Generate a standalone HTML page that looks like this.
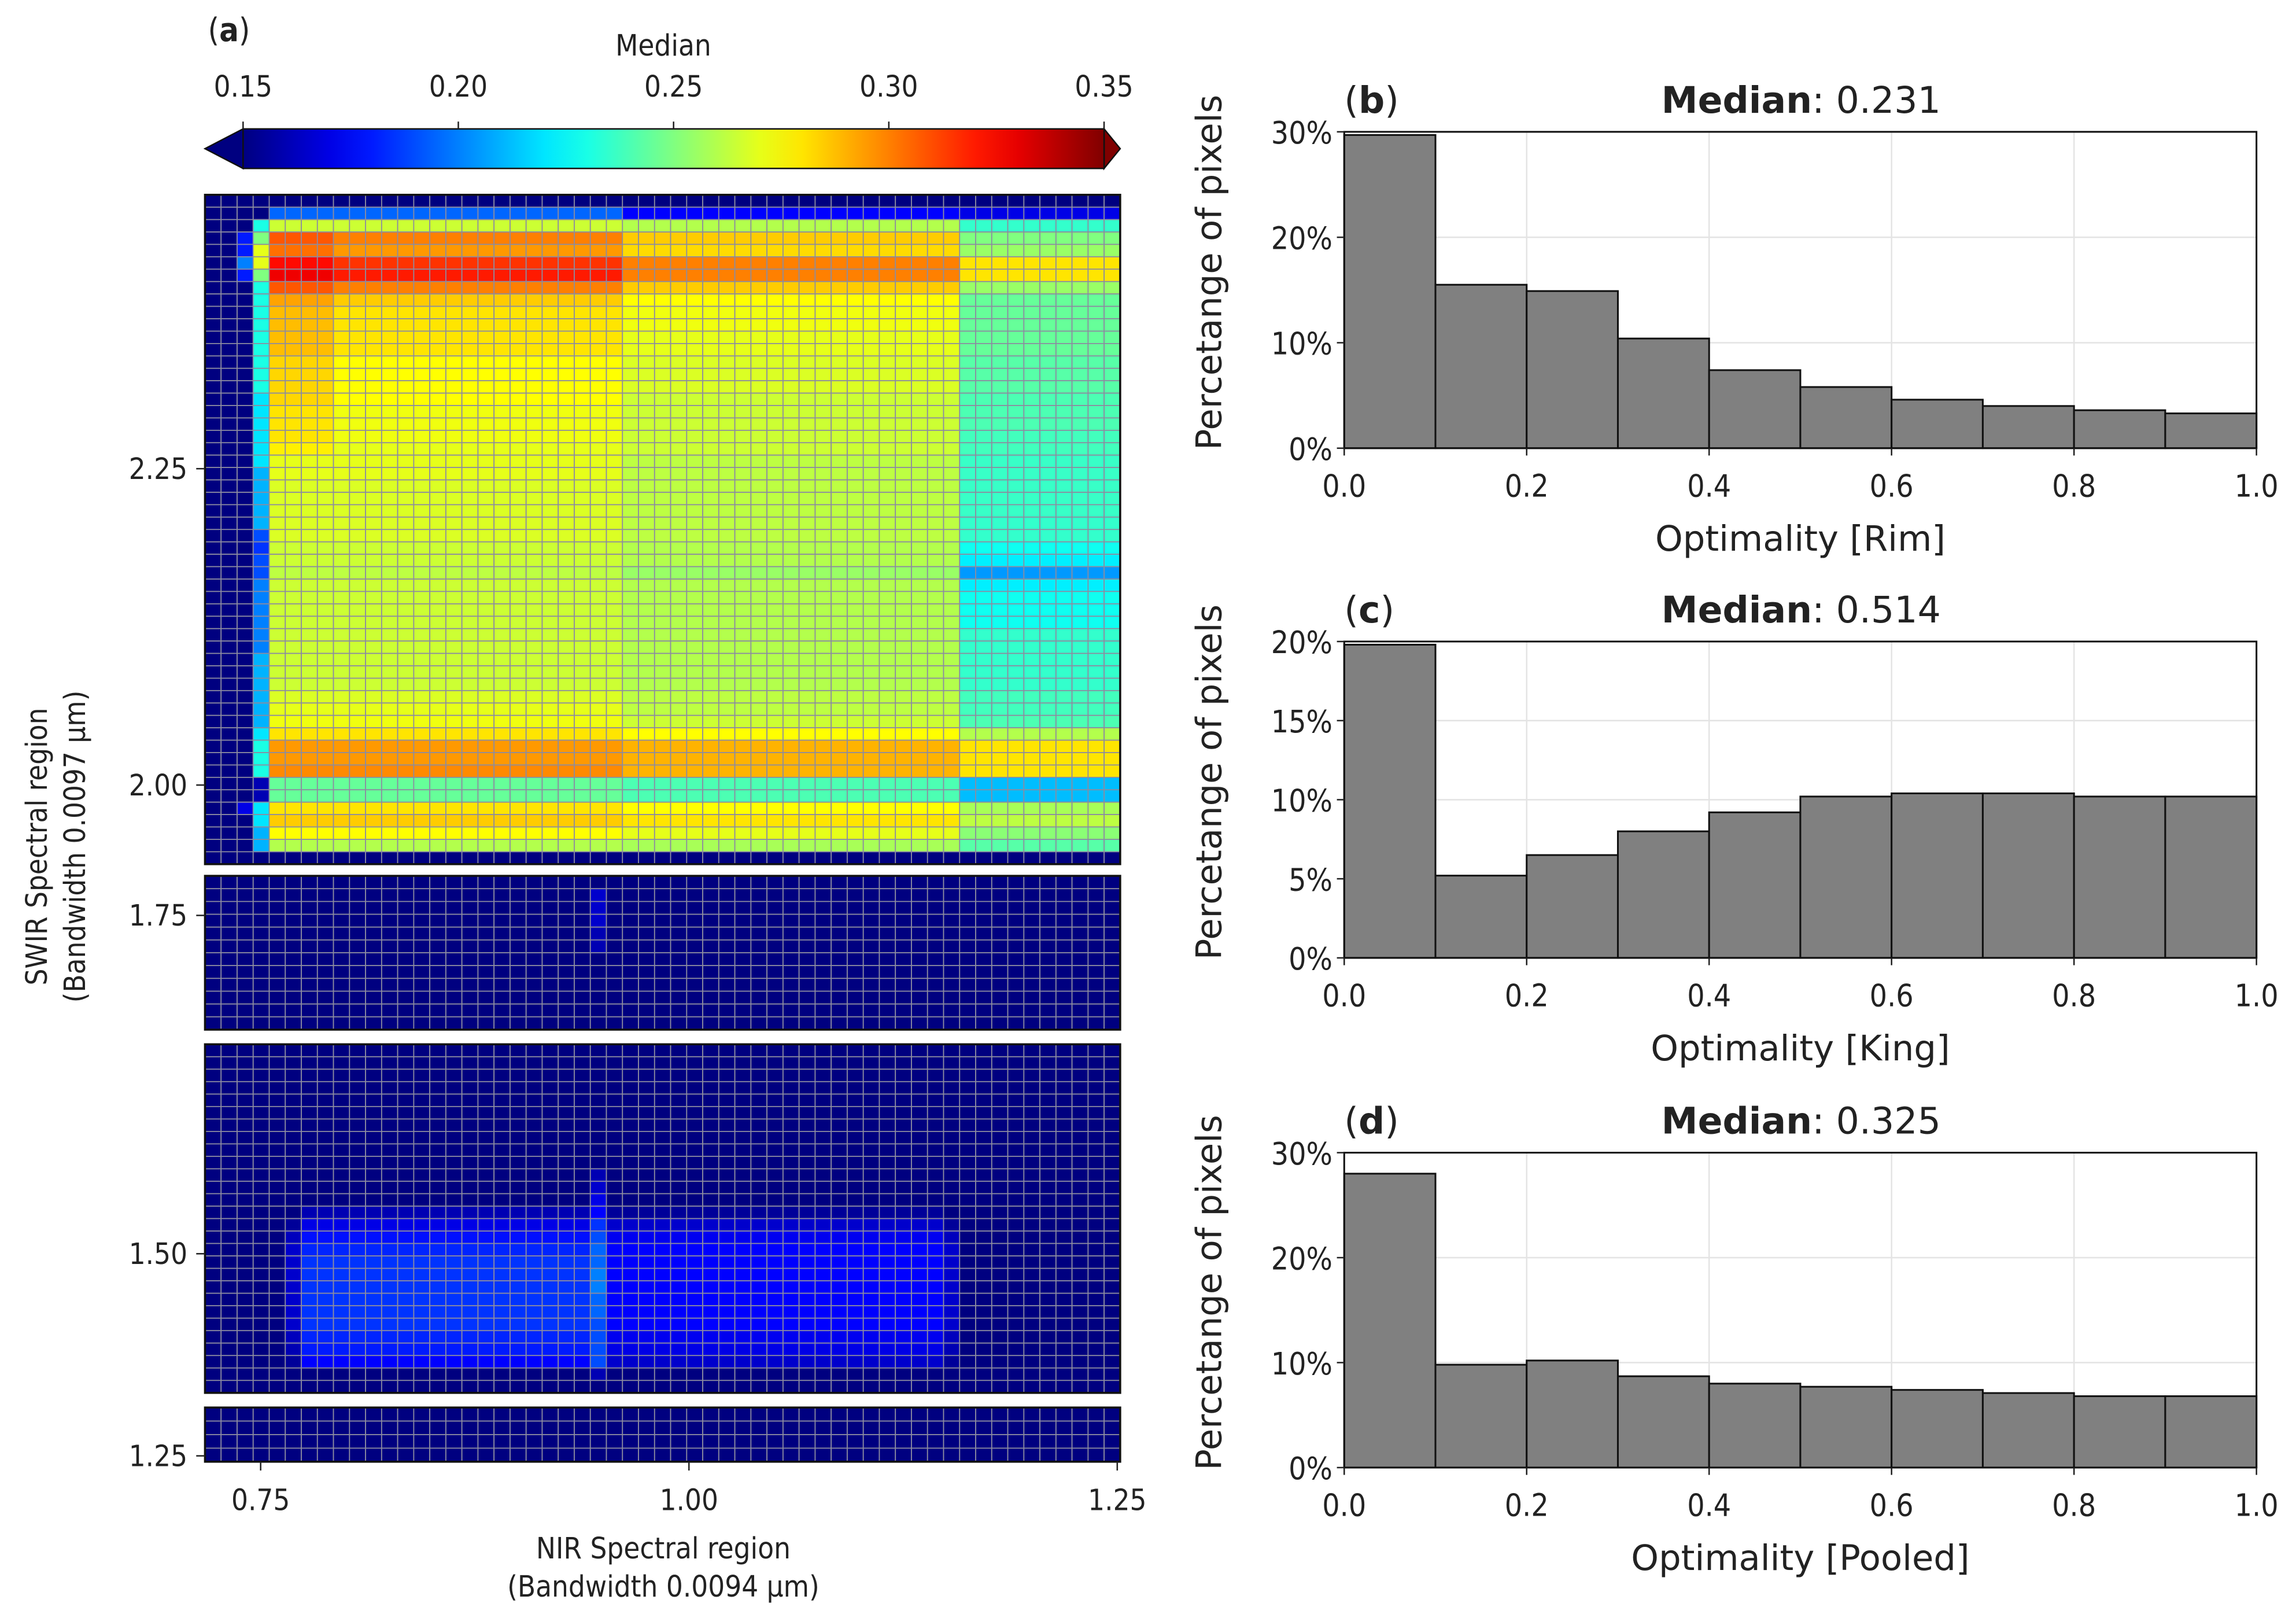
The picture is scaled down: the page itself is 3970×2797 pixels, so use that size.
<!DOCTYPE html>
<html><head><meta charset="utf-8"><style>
html,body{margin:0;padding:0;background:#fff;}
svg{display:block;}
text{font-family:"DejaVu Sans Condensed","DejaVu Sans","Liberation Sans",sans-serif;fill:#222;}
.w{font-family:"DejaVu Sans","Liberation Sans",sans-serif;}
</style></head><body>
<svg id="fig" xmlns="http://www.w3.org/2000/svg" width="3970" height="2797" viewBox="0 0 1568 1104.7"></svg>
<script>
// ---------- heatmap data (median values) ----------
const nCols = 57;
// top panel rows: values for left segment (cols 4-25), middle (26-46), right (47-56)
const topRowL = [0.14,0.195,0.265,0.30,0.295,0.315,0.32,0.30,0.285,0.28,0.28,0.28,0.28,0.275,0.275,0.275,0.275,0.272,0.272,0.272,0.27,0.27,0.27,0.268,0.268,0.268,0.268,0.268,0.265,0.265,0.262,0.265,0.265,0.265,0.265,0.265,0.265,0.265,0.265,0.265,0.268,0.27,0.272,0.28,0.295,0.295,0.298,0.245,0.245,0.28,0.285,0.275,0.26,0.14];
const topRowM = [0.14,0.175,0.26,0.285,0.282,0.30,0.30,0.285,0.275,0.272,0.272,0.27,0.27,0.268,0.268,0.268,0.265,0.265,0.265,0.265,0.265,0.262,0.262,0.262,0.262,0.262,0.262,0.262,0.26,0.26,0.255,0.26,0.26,0.26,0.26,0.26,0.26,0.26,0.26,0.26,0.262,0.262,0.265,0.275,0.29,0.29,0.29,0.24,0.24,0.275,0.28,0.27,0.258,0.14];
const topRowR = [0.14,0.17,0.235,0.25,0.255,0.28,0.28,0.255,0.245,0.245,0.245,0.245,0.245,0.242,0.242,0.242,0.24,0.24,0.24,0.238,0.238,0.236,0.236,0.236,0.236,0.236,0.235,0.235,0.228,0.222,0.205,0.222,0.228,0.228,0.228,0.235,0.235,0.235,0.235,0.235,0.238,0.238,0.24,0.26,0.28,0.28,0.28,0.212,0.212,0.258,0.262,0.252,0.242,0.14];
const topCol3 = [0.14,0.14,0.23,0.25,0.27,0.27,0.25,0.23,0.23,0.23,0.23,0.23,0.23,0.23,0.23,0.23,0.22,0.22,0.22,0.22,0.22,0.22,0.21,0.21,0.21,0.21,0.21,0.19,0.185,0.19,0.19,0.2,0.2,0.2,0.2,0.2,0.2,0.21,0.21,0.21,0.21,0.21,0.21,0.22,0.23,0.23,0.23,0.16,0.16,0.22,0.22,0.21,0.21,0.14];
const topCol2 = [0.14,0.14,0.14,0.18,0.18,0.2,0.18,0.14,0.14,0.14,0.14,0.14,0.14,0.14,0.14,0.14,0.14,0.14,0.14,0.14,0.14,0.14,0.14,0.14,0.14,0.14,0.14,0.14,0.14,0.14,0.14,0.14,0.14,0.14,0.14,0.14,0.14,0.14,0.14,0.14,0.14,0.14,0.14,0.14,0.14,0.14,0.14,0.14,0.14,0.17,0.14,0.14,0.14,0.14];
// panel 2 (12 rows): col 24 value
const p2Col24 = [0.14,0.165,0.165,0.165,0.16,0.16,0.14,0.14,0.14,0.14,0.14,0.14];
// panel 3 (28 rows): blob values left (cols 6-23), right (25-45), col 24
const p3Left  = [0.14,0.14,0.14,0.14,0.14,0.14,0.14,0.14,0.14,0.14,0.14,0.145,0.15,0.16,0.17,0.178,0.182,0.185,0.185,0.185,0.185,0.185,0.185,0.182,0.18,0.175,0.145,0.14];
const p3Right = [0.14,0.14,0.14,0.14,0.14,0.14,0.14,0.14,0.14,0.14,0.14,0.145,0.15,0.155,0.165,0.172,0.175,0.175,0.175,0.175,0.175,0.175,0.175,0.172,0.17,0.165,0.145,0.14];
const p3Col24 = [0.14,0.14,0.14,0.14,0.14,0.14,0.14,0.14,0.14,0.14,0.16,0.165,0.17,0.175,0.185,0.19,0.195,0.195,0.2,0.2,0.195,0.195,0.19,0.19,0.19,0.19,0.16,0.14];
const p4Rows = [0.14,0.14,0.14,0.14];
const xTicks = [0.75,1.00,1.25];
const yTicks = [2.25,2.00,1.75,1.50,1.25];
const cbTicks = [0.15,0.20,0.25,0.30,0.35];
// ---------- histogram data ----------
const histBins = [0,0.1,0.2,0.3,0.4,0.5,0.6,0.7,0.8,0.9,1.0];
const rimVals = [29.7,15.5,14.9,10.4,7.4,5.8,4.6,4.0,3.6,3.3];
const kingVals = [19.8,5.2,6.5,8.0,9.2,10.2,10.4,10.4,10.2,10.2];
const pooledVals = [28.0,9.8,10.2,8.7,8.0,7.7,7.4,7.1,6.8,6.8];
const xTickLabels = ["0.0","0.2","0.4","0.6","0.8","1.0"];

const NS="http://www.w3.org/2000/svg";
const svg=document.getElementById('fig');
function mk(tag,attrs,parent){const e=document.createElementNS(NS,tag);for(const k in attrs)e.setAttribute(k,attrs[k]);(parent||svg).appendChild(e);return e;}
function txt(s,attrs,parent){const e=mk('text',attrs,parent);e.textContent=s;return e;}
function clamp(v){return Math.max(0,Math.min(1,v));}
function jet(v){const t=clamp((v-0.15)/0.2);const r=clamp(1.5-Math.abs(4*t-3)),g=clamp(1.5-Math.abs(4*t-2)),b=clamp(1.5-Math.abs(4*t-1));return `rgb(${Math.round(r*255)},${Math.round(g*255)},${Math.round(b*255)})`;}

// ---------- panel (a) ----------
const hx0=140,hx1=765,cw=(hx1-hx0)/nCols;
const panels=[{y0:133,y1:590,rows:54},{y0:598,y1:703,rows:12},{y0:713,y1:951,rows:28},{y0:961,y1:998,rows:4}];
function topVal(r,c){if(c<2)return 0.14;if(c===2)return topCol2[r];if(c===3)return topCol3[r];
  if(c<=25){const warm=(c<=7&&r>=3&&r<=20)?0.008:0;return topRowL[r]+warm;}
  if(c<=46)return topRowM[r];return topRowR[r];}
function p2Val(r,c){return c===24?p2Col24[r]:0.14;}
function p3Val(r,c){if(c===24)return p3Col24[r];if(c>=6&&c<=23)return p3Left[r];if(c>=25&&c<=45)return p3Right[r];if(c===5||c===46)return Math.max(0.14,Math.min(p3Left[r],p3Right[r])-0.01);return 0.14;}
function p4Val(r,c){return p4Rows[r];}
const valFns=[topVal,p2Val,p3Val,p4Val];
const gA=mk('g',{});
panels.forEach((p,pi)=>{
  const g=mk('g',{},gA);
  
  
  const ch=(p.y1-p.y0)/p.rows;
  for(let r=0;r<p.rows;r++)for(let c=0;c<nCols;c++){
    const e=mk('rect',{x:hx0+c*cw,y:p.y0+r*ch,width:cw,height:ch,fill:jet(valFns[pi](r,c)),stroke:'#8c8ca0','stroke-width':0.7},g);
    
    
  }
  mk('rect',{x:hx0,y:p.y0,width:hx1-hx0,height:p.y1-p.y0,fill:'none',stroke:'#111','stroke-width':1.4},g);
});
// axes
function xA(v){return 178+(v-0.75)/0.5*585;}
const yAnch=[[2.25,320],[2.00,536],[1.75,625],[1.50,856],[1.25,994]];
function yA(v){const a=yAnch.find(q=>Math.abs(q[0]-v)<1e-6);return a?a[1]:0;}
xTicks.forEach(v=>{const x=xA(v);mk('line',{x1:x,x2:x,y1:998,y2:1004,stroke:'#222','stroke-width':1});
  const t=txt(v.toFixed(2),{x:x,y:1031,'font-size':20,'text-anchor':'middle'});});
yTicks.forEach(v=>{const y=yA(v);mk('line',{x1:134,x2:140,y1:y,y2:y,stroke:'#222','stroke-width':1});
  const t=txt(v.toFixed(2),{x:128,y:y+7,'font-size':20,'text-anchor':'end'});});
txt('NIR Spectral region',{x:453,y:1064,'font-size':20,'text-anchor':'middle',});
txt('(Bandwidth 0.0094 µm)',{x:453,y:1090,'font-size':20,'text-anchor':'middle',});
txt('SWIR Spectral region',{x:0,y:0,'font-size':20,'text-anchor':'middle',transform:'translate(32,578) rotate(-90)',});
txt('(Bandwidth 0.0097 µm)',{x:0,y:0,'font-size':20,'text-anchor':'middle',transform:'translate(58,578) rotate(-90)',});
// colorbar
const cbx0=166,cbx1=754,cby0=88,cby1=115;
function xCb(v){return cbx0+(v-0.15)/0.2*(cbx1-cbx0);}
const defs=mk('defs',{});
const lg=mk('linearGradient',{id:'jetg',x1:0,x2:1,y1:0,y2:0},defs);
for(let i=0;i<=20;i++){mk('stop',{offset:i/20,'stop-color':jet(0.15+i*0.01)},lg);}
const cbg=mk('g',{});
mk('polygon',{points:`${cbx0},${cby0} ${cbx0},${cby1} 140,${(cby0+cby1)/2}`,fill:jet(0.14),stroke:'#111','stroke-width':1},cbg);
mk('polygon',{points:`${cbx1},${cby0} ${cbx1},${cby1} 765,${(cby0+cby1)/2}`,fill:'rgb(128,0,0)',stroke:'#111','stroke-width':1},cbg);
mk('rect',{x:cbx0,y:cby0,width:cbx1-cbx0,height:cby1-cby0,fill:'url(#jetg)',stroke:'#111','stroke-width':1},cbg);
cbTicks.forEach(v=>{const x=xCb(v);mk('line',{x1:x,x2:x,y1:cby0,y2:cby0-5,stroke:'#222','stroke-width':1},cbg);
  const t=txt(v.toFixed(2),{x:x,y:66,'font-size':20,'text-anchor':'middle'},cbg);});
txt('Median',{x:453,y:38,'font-size':20,'text-anchor':'middle',});
const la=txt('',{x:142,y:28,'font-size':22,});
la.innerHTML='(<tspan font-weight="bold">a</tspan>)';

// ---------- histograms ----------
const hX0=918,hX1=1541;
function hx(v){return hX0+v*(hX1-hX0);}
const hists=[
 {vals:rimVals,top:90,bot:306,max:30,ticks:[0,10,20,30],label:'b',med:'0.231',xl:'Optimality [Rim]'},
 {vals:kingVals,top:438,bot:654,max:20,ticks:[0,5,10,15,20],label:'c',med:'0.514',xl:'Optimality [King]'},
 {vals:pooledVals,top:787,bot:1002,max:30,ticks:[0,10,20,30],label:'d',med:'0.325',xl:'Optimality [Pooled]'}];
hists.forEach(h=>{
  const g=mk('g',{});
  
  
  const hy=v=>h.bot-v/h.max*(h.bot-h.top);
  xTickLabels.forEach(s=>{const x=hx(parseFloat(s));mk('line',{x1:x,x2:x,y1:h.top,y2:h.bot,stroke:'#e4e4e4','stroke-width':1},g);});
  h.ticks.forEach(v=>{const y=hy(v);mk('line',{x1:hX0,x2:hX1,y1:y,y2:y,stroke:'#e4e4e4','stroke-width':1},g);});
  h.vals.forEach((v,i)=>{const x0=hx(histBins[i]),x1=hx(histBins[i+1]);
    const b=mk('rect',{x:x0,y:hy(v),width:x1-x0,height:h.bot-hy(v),fill:'#808080',stroke:'#111','stroke-width':1.2},g);
    
    });
  mk('rect',{x:hX0,y:h.top,width:hX1-hX0,height:h.bot-h.top,fill:'none',stroke:'#111','stroke-width':1.2},g);
  xTickLabels.forEach(s=>{const x=hx(parseFloat(s));mk('line',{x1:x,x2:x,y1:h.bot,y2:h.bot+5,stroke:'#222'},g);
    const t=txt(s,{x:x,y:h.bot+33,'font-size':21,'text-anchor':'middle'},g);});
  h.ticks.forEach(v=>{const y=hy(v);mk('line',{x1:hX0-5,x2:hX0,y1:y,y2:y,stroke:'#222'},g);
    const t=txt(v+'%',{x:hX0-8,y:y+8,'font-size':21,'text-anchor':'end'},g);});
  const xl=txt(h.xl,{x:(hX0+hX1)/2,y:h.bot+70,'font-size':24,'text-anchor':'middle','class':'w'},g);
  
  const yl=txt('Percetange of pixels',{x:0,y:0,'font-size':24,'text-anchor':'middle','class':'w',transform:`translate(834,${(h.top+h.bot)/2-12}) rotate(-90)`},g);
  
  const ti=txt('',{x:1230,y:h.top-13,'font-size':25,'text-anchor':'middle','class':'w'},g);
  ti.innerHTML='<tspan font-weight="bold">Median</tspan>: '+h.med;
  
  const pl=txt('',{x:918,y:h.top-13,'font-size':25,'class':'w'},g);
  pl.innerHTML='(<tspan font-weight="bold">'+h.label+'</tspan>)';
  
});
</script>
</body></html>
